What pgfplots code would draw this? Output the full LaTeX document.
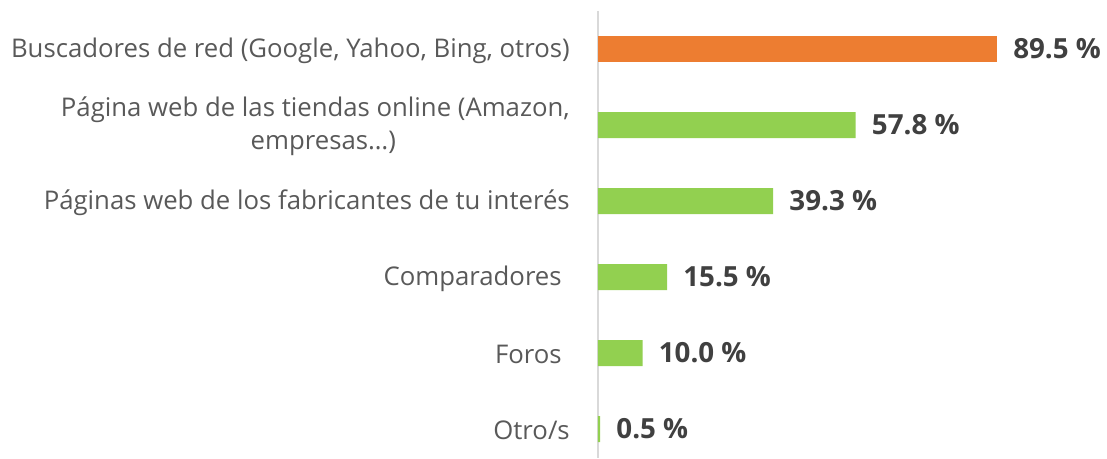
\documentclass[border=0pt]{standalone}
\usepackage{pgfplots}
\pgfplotsset{compat=1.18}
\usepackage{fontspec}
\setmainfont{Open Sans}
\definecolor{barorange}{HTML}{ED7D31}
\definecolor{bargreen}{HTML}{92D050}
\definecolor{labgray}{HTML}{595959}
\definecolor{valgray}{HTML}{404040}
\begin{document}
\begin{tikzpicture}
\begin{axis}[
 at={(0,0)}, anchor=south west,
 scale only axis, width=334.35pt, height=335.25pt,
 xmin=0, xmax=100, ymin=-0.5, ymax=5.38, y dir=reverse,
 xbar, bar width=19.5pt, bar shift=0pt,
 axis lines*=left,
 x axis line style={draw=none},
 y axis line style={draw=black!15, line width=0.9pt, -},
 xtick=\empty, ytick={0,1,2,3,4,5}, major tick length=0pt,
 yticklabels={{Buscadores de red (Google, Yahoo, Bing, otros)},
   {Página web de las tiendas online (Amazon,\\\hspace*{12pt}empresas…)},
   {Páginas web de los fabricantes de tu interés},
   {Comparadores\hspace*{6pt}},{Foros\hspace*{6pt}},{Otro/s}},
 yticklabel style={font=\fontsize{19.3}{24.5}\selectfont, text=labgray, align=center, inner sep=0pt, xshift=-21pt, yshift=-1pt},
 /pgf/number format/assume math mode=true,
 nodes near coords={\pgfmathprintnumber[fixed,fixed zerofill,precision=1,assume math mode=true]{\pgfplotspointmeta}~\%},
 every node near coord/.style={font=\fontsize{20.8}{24}\selectfont\bfseries, text=valgray, inner sep=0pt, xshift=12pt, anchor=west},
 clip=false,
]
\addplot[draw=none, fill=barorange] coordinates {(89.5,0)};
\addplot[draw=none, fill=bargreen] coordinates {(57.8,1) (39.3,2) (15.5,3) (10.0,4) (0.5,5)};
\end{axis}
\pgfresetboundingbox
\path (-448.5pt,0pt) rectangle (381.75pt,343.5pt);
\end{tikzpicture}
\end{document}
